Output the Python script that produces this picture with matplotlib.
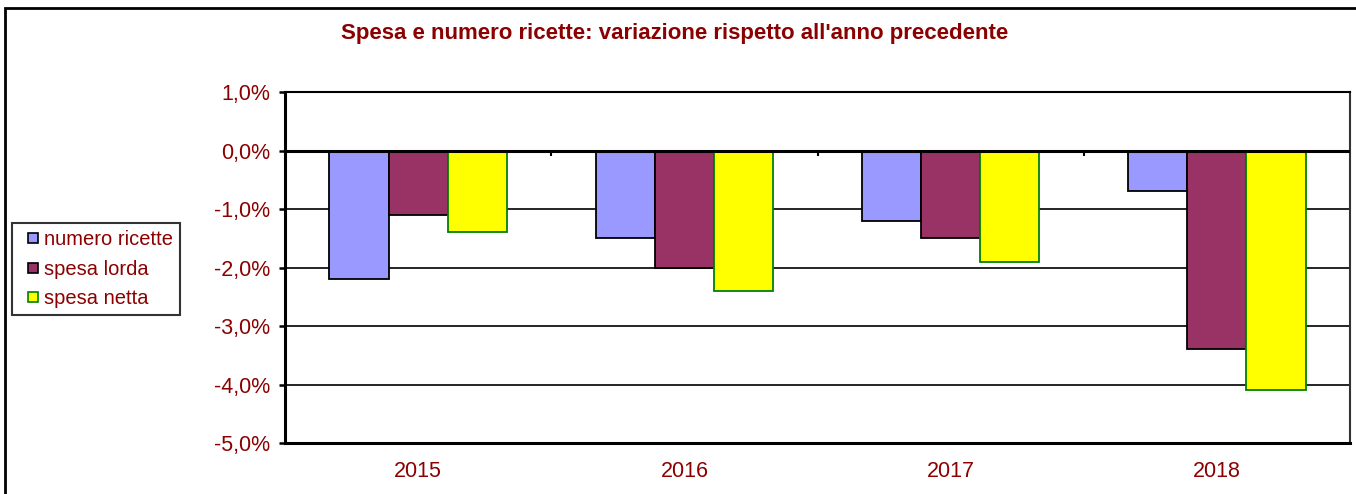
import numpy as np
import matplotlib.pyplot as plt
from matplotlib.patches import Rectangle
from matplotlib.lines import Line2D

plt.switch_backend('Agg')
plt.rcParams['font.family'] = ['Liberation Sans', 'DejaVu Sans']

# Data (percent change vs previous year)
years = ['2015', '2016', '2017', '2018']
numero_ricette = [-2.2, -1.5, -1.2, -0.7]
spesa_lorda = [-1.1, -2.0, -1.5, -3.4]
spesa_netta = [-1.4, -2.4, -1.9, -4.1]
y_ticks = [1, 0, -1, -2, -3, -4, -5]

series = [
    ('numero ricette', numero_ricette, '#9999FF', 'black'),
    ('spesa lorda', spesa_lorda, '#993366', 'black'),
    ('spesa netta', spesa_netta, '#FFFF00', '#008000'),
]

text_col = '#8B0000'

fig = plt.figure(figsize=(13.56, 4.94), dpi=100)
ax = fig.add_axes([285 / 1356, 51 / 494, 1065 / 1356, 351 / 494])

x = np.arange(len(years))
w = 2 / 9
handles = []
for i, (name, vals, fc, ec) in enumerate(series):
    ax.bar(x + (i - 1) * w, vals, w, color=fc, edgecolor=ec, linewidth=1.3, zorder=3)
    handles.append(Line2D([], [], linestyle='none', marker='s', markersize=7.5,
                          markerfacecolor=fc, markeredgecolor=ec, markeredgewidth=1.2,
                          label=name))

ax.set_xlim(-0.5, len(years) - 0.5)
ax.set_ylim(-5, 1)

# gridlines and category axis at zero
for v in y_ticks:
    ax.axhline(v, color='black', linewidth=1.2, zorder=1)
ax.axhline(0, color='black', linewidth=2.2, zorder=4)
ax.vlines(np.arange(1, len(years)) - 0.5, -0.09, 0, color='black', linewidth=1.5, zorder=4)

ax.set_yticks(y_ticks)
ax.set_yticklabels([f'{v:.1f}%'.replace('.', ',') for v in y_ticks])
ax.set_xticks(x)
ax.set_xticklabels(years)
ax.tick_params(axis='y', direction='out', length=4.5, width=1.8, pad=6,
               labelsize=15.5, labelcolor=text_col)
ax.tick_params(axis='x', length=0, pad=13, labelsize=15.5, labelcolor=text_col)

for s in ax.spines.values():
    s.set_color('black')
    s.set_linewidth(1.5)
ax.spines['left'].set_linewidth(2.2)
ax.spines['bottom'].set_linewidth(2.2)
ax.spines['right'].set_color('#333333')

fig.text(675 / 1356, 1 - 33 / 494,
         "Spesa e numero ricette: variazione rispetto all'anno precedente",
         ha='center', va='center', fontsize=16, fontweight='bold', color=text_col)

leg = ax.legend(handles=handles, loc='upper left', bbox_to_anchor=(12 / 1356, 1 - 223 / 494),
                bbox_transform=fig.transFigure, borderaxespad=0, fontsize=14.5,
                frameon=True, fancybox=False, handlelength=1.4,
                handletextpad=-0.15, labelspacing=0.53, borderpad=0.35)
leg.get_frame().set_edgecolor('black')
leg.get_frame().set_linewidth(1.5)
for t in leg.get_texts():
    t.set_color(text_col)

# outer chart border
fig.patches.append(Rectangle((5 / 1356, -0.1), 1.1, 1.1 - 8 / 494, transform=fig.transFigure,
                             fill=False, edgecolor='black', linewidth=2, clip_on=False))

fig.savefig('out.png', dpi=100)
